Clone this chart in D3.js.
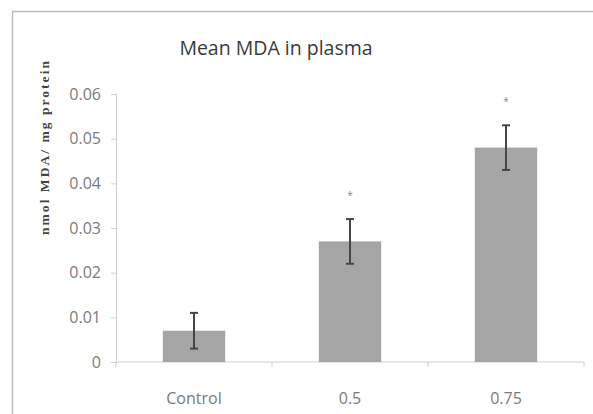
<!DOCTYPE html>
<html><head><meta charset="utf-8">
<script src="https://cdn.jsdelivr.net/npm/d3@7"></script>
<style>body{margin:0;background:#fff}svg{display:block}</style>
</head><body>
<script>
const categories = ["Control", "0.5", "0.75"];
const means = [0.007, 0.027, 0.048];
const errors = [0.004, 0.005, 0.005];
const significant = [false, true, true];
const yTicks = [0, 0.01, 0.02, 0.03, 0.04, 0.05, 0.06];
const title = "Mean MDA in plasma";
const yLabel = "nmol MDA/ mg protein";

const W = 593, H = 414;
const svg = d3.select("body").append("svg").attr("width", W).attr("height", H);

// frame
svg.append("rect").attr("x", 12.5).attr("y", 11.5).attr("width", 700).attr("height", 600)
  .attr("fill", "none").attr("stroke", "#bdbdbd").attr("stroke-width", 1.5);

const x0 = 116, x1 = 584, yTop = 94, yBot = 362;
const x = d3.scaleBand().domain(categories).range([x0, x1]).paddingInner(0.6).paddingOuter(0.3);
const y = d3.scaleLinear().domain([0, 0.06]).range([yBot, yTop]);

const tickFont = "'Open Sans', sans-serif";
// y axis
const yAxis = d3.axisLeft(y).tickValues(yTicks).tickFormat(d => d === 0 ? "0" : d3.format(".2f")(d)).tickSize(5).tickPadding(10);
const gy = svg.append("g").attr("transform", `translate(${x0},0)`).call(yAxis);
gy.select(".domain").attr("stroke", "#cfcfcf");
gy.selectAll(".tick line").attr("stroke", "#cfcfcf");
gy.selectAll(".tick text").attr("fill", "#7a7a7a").attr("font-family", tickFont).attr("font-size", 16);

// x axis
const gx = svg.append("g").attr("transform", `translate(0,${yBot})`);
gx.append("line").attr("x1", x0).attr("x2", x1).attr("y1", 0).attr("y2", 0).attr("stroke", "#cfcfcf");
const step = x.step();
const bounds = d3.range(categories.length + 1).map(i => x0 + i * step);
gx.selectAll("line.tk").data(bounds).join("line").attr("class", "tk")
  .attr("x1", d => d).attr("x2", d => d).attr("y1", 0).attr("y2", 5).attr("stroke", "#cfcfcf");
gx.selectAll("text").data(categories).join("text")
  .attr("x", d => x(d) + x.bandwidth() / 2).attr("y", 42).attr("text-anchor", "middle")
  .attr("fill", "#7a7a7a").attr("font-family", tickFont).attr("font-size", 16).text(d => d);

// bars
svg.selectAll("rect.bar").data(categories).join("rect").attr("class", "bar")
  .attr("x", d => x(d)).attr("width", x.bandwidth())
  .attr("y", (d, i) => y(means[i])).attr("height", (d, i) => yBot - y(means[i]))
  .attr("fill", "#a5a5a5");

// error bars
const eb = svg.selectAll("g.eb").data(categories).join("g").attr("class", "eb")
  .attr("stroke", "#454545").attr("stroke-width", 2);
eb.append("line").attr("x1", d => x(d) + x.bandwidth() / 2).attr("x2", d => x(d) + x.bandwidth() / 2)
  .attr("y1", (d, i) => y(means[i] + errors[i])).attr("y2", (d, i) => y(means[i] - errors[i]));
eb.append("line").attr("x1", d => x(d) + x.bandwidth() / 2 - 4).attr("x2", d => x(d) + x.bandwidth() / 2 + 4)
  .attr("y1", (d, i) => y(means[i] + errors[i])).attr("y2", (d, i) => y(means[i] + errors[i]));
eb.append("line").attr("x1", d => x(d) + x.bandwidth() / 2 - 4).attr("x2", d => x(d) + x.bandwidth() / 2 + 4)
  .attr("y1", (d, i) => y(means[i] - errors[i])).attr("y2", (d, i) => y(means[i] - errors[i]));

// asterisks
svg.selectAll("text.star").data(categories.filter((d, i) => significant[i])).join("text").attr("class", "star")
  .attr("x", d => x(d) + x.bandwidth() / 2)
  .attr("y", d => { const i = categories.indexOf(d); return y(means[i] + errors[i]) - 20; })
  .attr("text-anchor", "middle").attr("fill", "#888").attr("font-family", tickFont).attr("font-size", 10).text("*");

// title
svg.append("text").attr("x", 276).attr("y", 55).attr("text-anchor", "middle")
  .attr("fill", "#3a3a3a").attr("font-family", tickFont).attr("font-size", 19.5).text(title);

// y label
svg.append("text").attr("transform", "translate(49,148) rotate(-90)").attr("text-anchor", "middle")
  .attr("fill", "#444").attr("font-family", "'Liberation Serif', serif").attr("font-weight", "bold").attr("font-size", 13.5)
  .attr("textLength", 174).attr("lengthAdjust", "spacing").text(yLabel);
</script>
</body></html>
